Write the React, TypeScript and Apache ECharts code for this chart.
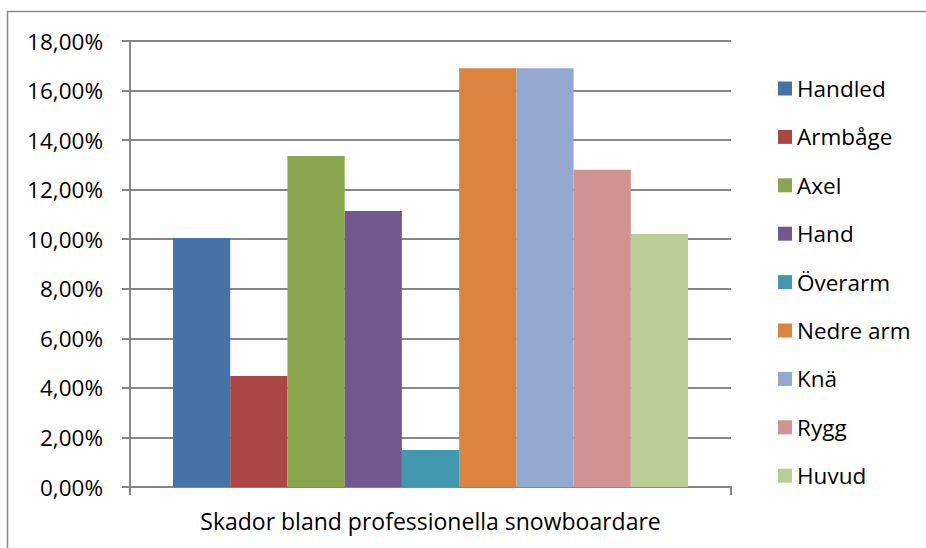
import React, { useEffect, useRef } from "react";
import * as echarts from "echarts";

const category = "Skador bland professionella snowboardare";
const seriesNames = ["Handled", "Armbåge", "Axel", "Hand", "Överarm", "Nedre arm", "Knä", "Rygg", "Huvud"];
const seriesValues = [0.1005, 0.0448, 0.1336, 0.1114, 0.0149, 0.169, 0.169, 0.128, 0.1021];
const seriesColors = ["#4572A7", "#AA4643", "#89A54E", "#71588F", "#4198AF", "#DB843D", "#93A9CF", "#D19392", "#B9CD96"];

const FONT = "Open Sans";

export default function App() {
  const ref = useRef<HTMLDivElement>(null);
  useEffect(() => {
    if (!ref.current) return;
    const chart = echarts.init(ref.current, null, { renderer: "svg" });
    chart.setOption({
      animation: false,
      backgroundColor: "#ffffff",
      textStyle: { fontFamily: FONT },
      graphic: [
        {
          type: "rect",
          shape: { x: 7.5, y: 11.5, width: 1000, height: 1000 },
          style: { fill: "none", stroke: "#888888", lineWidth: 1.5 },
          silent: true,
        },
      ],
      grid: { left: 130, right: 195, top: 41, bottom: 61, containLabel: false },
      legend: {
        orient: "vertical",
        left: 773,
        top: 72,
        itemWidth: 14,
        itemHeight: 14,
        itemGap: 25.4,
        icon: "rect",
        textStyle: { fontFamily: FONT, fontSize: 22.5, color: "#000000", padding: [0, 0, 0, 0] },
        data: seriesNames,
      },
      xAxis: {
        type: "category",
        data: [category],
        axisLine: { lineStyle: { color: "#868686", width: 2 } },
        axisTick: { show: true, length: 8, lineStyle: { color: "#868686", width: 2 } },
        axisLabel: { fontFamily: FONT, fontSize: 23, color: "#000000", margin: 22 },
      },
      yAxis: {
        type: "value",
        min: 0,
        max: 0.18,
        interval: 0.02,
        axisLine: { show: true, lineStyle: { color: "#868686", width: 2 } },
        axisTick: { show: true, length: 8, lineStyle: { color: "#868686", width: 2 } },
        splitLine: { lineStyle: { color: "#868686", width: 2 } },
        axisLabel: {
          fontFamily: FONT,
          fontSize: 22.5,
          color: "#000000",
          margin: 27,
          formatter: (v: number) => (v * 100).toFixed(2).replace(".", ",") + "%",
        },
      },
      series: seriesNames.map((name, i) => ({
        name,
        type: "bar",
        data: [seriesValues[i]],
        barGap: "0%",
        barCategoryGap: "14.3%",
        itemStyle: { color: seriesColors[i] },
      })),
    });
    return () => chart.dispose();
  }, []);
  return <div ref={ref} style={{ position: "fixed", left: 0, top: 0, width: 926, height: 548 }} />;
}
